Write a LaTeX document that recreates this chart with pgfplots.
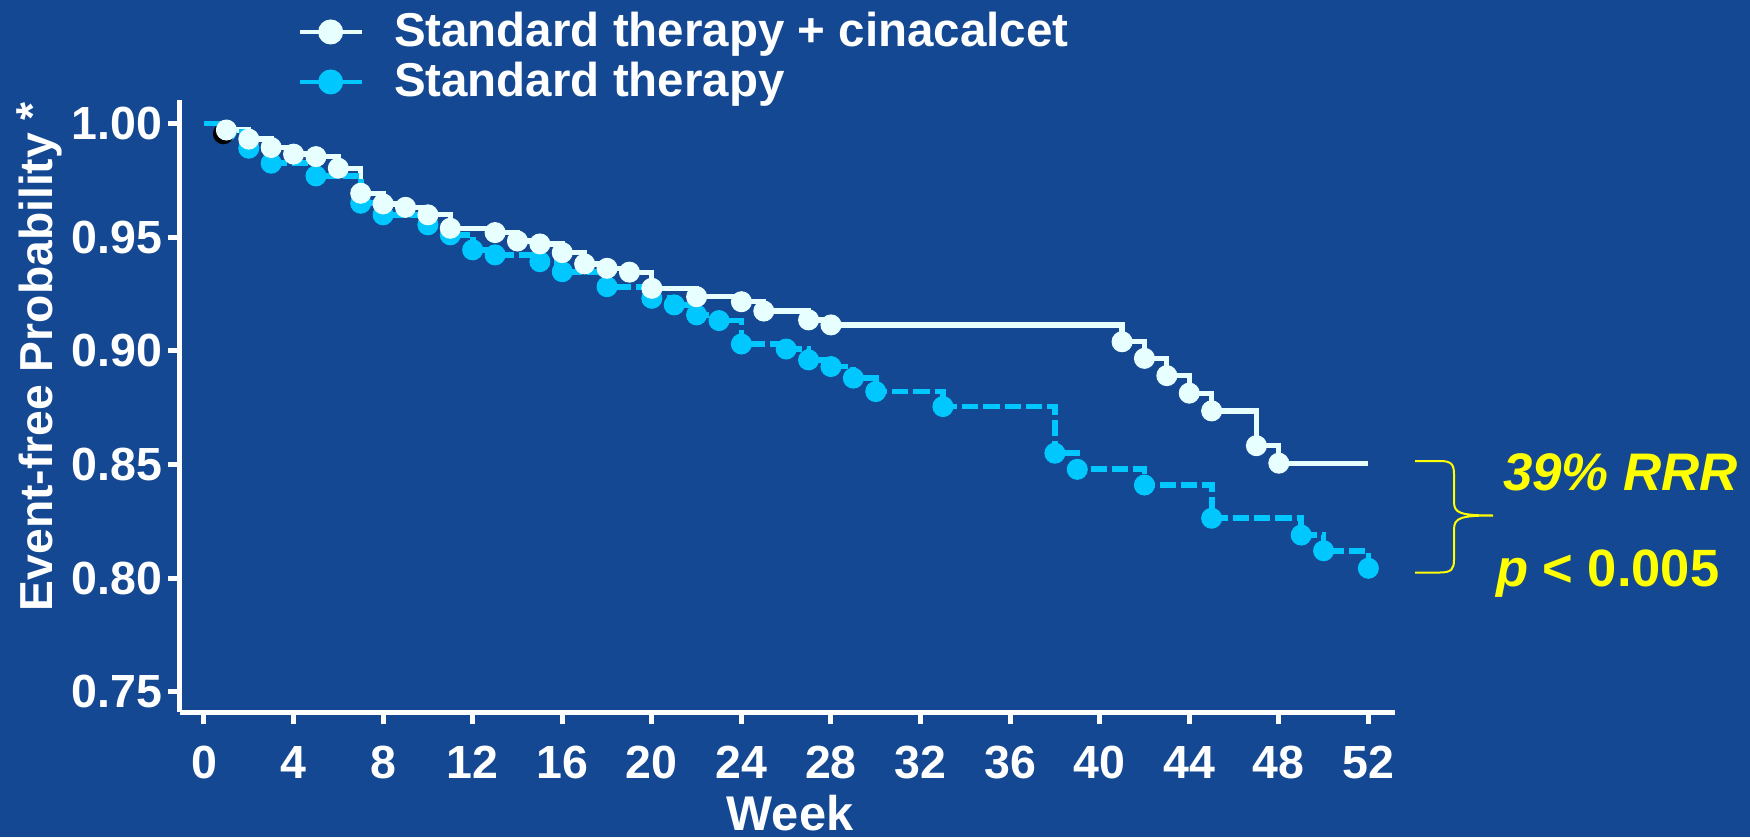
\documentclass[border=0pt]{standalone}
\usepackage{fontspec}
\setmainfont{Liberation Sans}
\usepackage{graphicx}
\usepackage{pgfplots}
\pgfplotsset{compat=1.18}
\definecolor{bgblue}{RGB}{20,72,146}
\definecolor{kmcyan}{RGB}{0,200,255}
\definecolor{kmwhite}{RGB}{232,255,255}
\definecolor{annyellow}{RGB}{255,255,0}
\begin{document}
\begin{tikzpicture}
\fill[bgblue] (0pt,0pt) rectangle (700pt,334.8pt);
\begin{axis}[
  at={(71.8pt,50pt)}, anchor=south west,
  scale only axis, width=486.2pt, height=244.8pt,
  xmin=-1.094, xmax=53.19, ymin=0.7412, ymax=1.0103,
  axis x line=bottom, axis y line=left,
  axis line style={-, white, line width=2pt},
  xtick={0,4,...,52}, ytick={0.75,0.8,0.85,0.9,0.95,1},
  tick align=outside, major tick length=4.8pt,
  tick style={white, line width=2pt},
  minor tick num=0,
  /pgf/number format/assume math mode=true,
  ticklabel style={font=\bfseries\fontsize{18.6}{22}\selectfont, text=white},
  yticklabel style={/pgf/number format/fixed, /pgf/number format/fixed zerofill, /pgf/number format/precision=2, inner sep=0pt, xshift=-2pt},
  xticklabel style={inner sep=0pt, yshift=-8.7pt},
  legend cell align=left,
  legend style={at={(axis description cs:0.0975,1.1426)}, anchor=north west, draw=none, fill=none, inner sep=0pt, outer sep=0pt, row sep=4.6pt, column sep=12.3pt, font=\bfseries\fontsize{19}{22}\selectfont, text=white, nodes={inner sep=0pt, text height=13.7pt, text depth=1.7pt}},
  clip=false,
]
\addlegendimage{legend image code/.code={\draw[kmwhite, line width=1.3pt] (0pt,0pt) -- (24.8pt,0pt); \fill[kmwhite] (12.4pt,0pt) circle (4.8pt);}}
\addlegendentry{Standard therapy + cinacalcet}
\addlegendimage{legend image code/.code={\draw[kmcyan, line width=1.3pt] (0pt,0pt) -- (24.8pt,0pt); \fill[kmcyan] (12.4pt,0pt) circle (4.8pt);}}
\addlegendentry{Standard therapy}

% Standard therapy + cinacalcet: step line
\addplot[kmwhite, line width=2.1pt, const plot, no marks, forget plot] coordinates {
(0,1.0000)(1,0.9971)(2,0.9931)(3,0.9894)(4,0.9865)(5,0.9854)(6,0.9803)(7,0.9693)
(8,0.9646)(9,0.9631)(10,0.9598)(11,0.9539)(13,0.9520)(14,0.9483)(15,0.9470)(16,0.9432)
(17,0.9382)(18,0.9363)(19,0.9346)(20,0.9275)(22,0.9238)(24,0.9216)(25,0.9175)(27,0.9136)
(28,0.9114)(41,0.9040)(42,0.8967)(43,0.8891)(44,0.8814)(45,0.8736)(47,0.8583)(48,0.8506)
(52,0.8506)};

% Standard therapy: dashed step line
\addplot[kmcyan, line width=2.3pt, dash pattern=on 6.5pt off 2pt, const plot, no marks, forget plot] coordinates {
(0,1.0000)(1,0.9965)(2,0.9891)(3,0.9825)(5,0.9769)(7,0.9649)(8,0.9598)(10,0.9554)
(11,0.9510)(12,0.9444)(13,0.9422)(15,0.9392)(16,0.9348)(18,0.9282)(20,0.9231)(21,0.9202)
(22,0.9158)(23,0.9133)(24,0.9030)(26,0.9008)(27,0.8960)(28,0.8931)(29,0.8880)(30,0.8821)
(33,0.8755)(38,0.8550)(39,0.8479)(42,0.8410)(45,0.8264)(49,0.8190)(50,0.8121)(52,0.8044)};

% Standard therapy: markers
\addplot[kmcyan, only marks, mark=*, mark size=4pt, mark options={solid, draw=kmcyan, fill=kmcyan}, forget plot] coordinates {
(1,0.9965)(2,0.9891)(3,0.9825)(5,0.9769)(7,0.9649)(8,0.9598)(10,0.9554)
(11,0.9510)(12,0.9444)(13,0.9422)(15,0.9392)(16,0.9348)(18,0.9282)(20,0.9231)(21,0.9202)
(22,0.9158)(23,0.9133)(24,0.9030)(26,0.9008)(27,0.8960)(28,0.8931)(29,0.8880)(30,0.8821)
(33,0.8755)(38,0.8550)(39,0.8479)(42,0.8410)(45,0.8264)(49,0.8190)(50,0.8121)(52,0.8044)};

% shadow under first marker
\addplot[black, only marks, mark=*, mark size=4pt, mark options={draw=black, fill=black, xshift=-1.2pt, yshift=-1.5pt}, forget plot] coordinates {(1,0.9971)};

% Standard therapy + cinacalcet: markers
\addplot[kmwhite, only marks, mark=*, mark size=4pt, mark options={draw=kmwhite, fill=kmwhite}, forget plot] coordinates {
(1,0.9971)(2,0.9931)(3,0.9894)(4,0.9865)(5,0.9854)(6,0.9803)(7,0.9693)
(8,0.9646)(9,0.9631)(10,0.9598)(11,0.9539)(13,0.9520)(14,0.9483)(15,0.9470)(16,0.9432)
(17,0.9382)(18,0.9363)(19,0.9346)(20,0.9275)(22,0.9238)(24,0.9216)(25,0.9175)(27,0.9136)
(28,0.9114)(41,0.9040)(42,0.8967)(43,0.8891)(44,0.8814)(45,0.8736)(47,0.8583)(48,0.8506)};
\end{axis}

% axis titles
\node[rotate=90, anchor=base west, text=white, font=\bfseries\fontsize{18.5}{22}\selectfont, inner sep=0pt] at (21pt,90.2pt) {Event-free Probability \raisebox{1.5pt}{*}};
\node[anchor=base, text=white, font=\bfseries\fontsize{19.5}{22}\selectfont, inner sep=0pt] at (316pt,2.6pt) {Week};

% brace and annotation
\draw[annyellow, line width=0.8pt] (566pt,150.4pt) -- (576pt,150.4pt) .. controls (580.6pt,150.4pt) and (581.6pt,149pt) .. (581.6pt,145pt) -- (581.6pt,134pt) .. controls (581.6pt,129.6pt) and (584pt,128.6pt) .. (597.2pt,128.6pt) .. controls (584pt,128.6pt) and (581.6pt,127.6pt) .. (581.6pt,123pt) -- (581.6pt,111pt) .. controls (581.6pt,107.2pt) and (580.6pt,105.8pt) .. (576pt,105.8pt) -- (566pt,105.8pt);
\node[anchor=base west, text=annyellow, font=\bfseries\itshape\fontsize{21.5}{24}\selectfont, inner sep=0pt] at (601pt,138.4pt) {\resizebox{94pt}{!}{39\% RRR}};
\node[anchor=base west, text=annyellow, font=\bfseries\fontsize{21.5}{24}\selectfont, inner sep=0pt] at (598.2pt,100.4pt) {\resizebox{89.3pt}{!}{\textit{p} < 0.005}};
\end{tikzpicture}
\end{document}
